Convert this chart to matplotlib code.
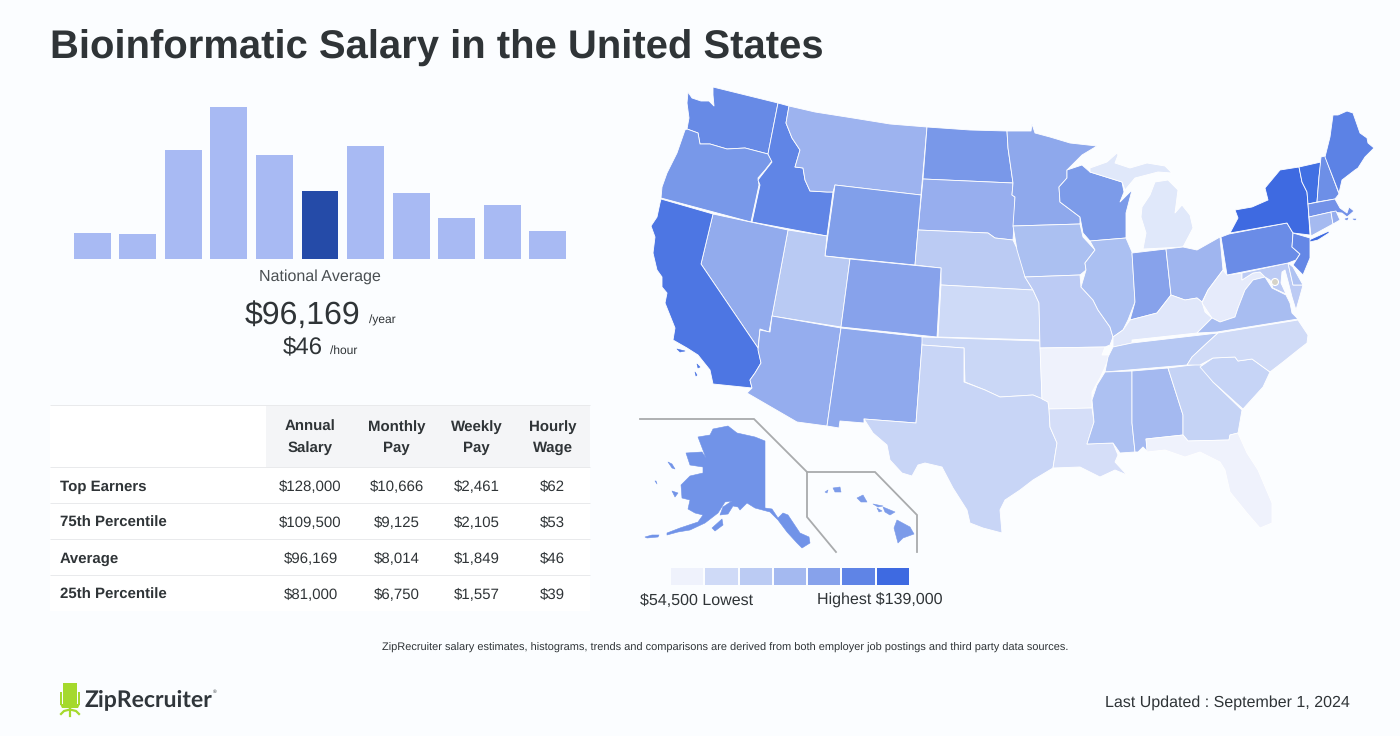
import matplotlib
matplotlib.use("Agg")
import matplotlib.pyplot as plt
from matplotlib.patches import Circle, Polygon, Rectangle

W, H = 1400, 736
BG = "#fbfdff"
DARK = "#2f3437"

plt.rcParams["font.family"] = ["Liberation Sans", "DejaVu Sans"]
plt.rcParams["text.hinting"] = "no_hinting"
plt.rcParams["text.hinting_factor"] = 1

# histogram, bar heights only, the picture has no axis
hist_heights = [26, 25, 109, 152, 104, 68, 113, 66, 41, 54, 28]
hist_highlight = 5

table_cols = ["Annual\nSalary", "Monthly\nPay", "Weekly\nPay", "Hourly\nWage"]
table_rows = ["Top Earners", "75th Percentile", "Average", "25th Percentile"]
annual = ["$128,000", "$109,500", "$96,169", "$81,000"]
monthly = ["$10,666", "$9,125", "$8,014", "$6,750"]
weekly = ["$2,461", "$2,105", "$1,849", "$1,557"]
hourly = ["$62", "$53", "$46", "$39"]

legend_colors = ["#eff2fc", "#cfdaf7", "#bbcbf3", "#a4b9f0", "#87a2eb", "#5f84e6", "#3e6ae1"]

state_colors = {
    "WA": "#678ae6", "OR": "#7898e9", "CA": "#4d76e3", "ID": "#6085e6", "MT": "#9db3ef",
    "ND": "#7998e9", "SD": "#97aeee", "WY": "#819fea", "NE": "#bbcbf3", "UT": "#b9caf3",
    "CO": "#87a2eb", "NV": "#92abed", "AZ": "#95adee", "NM": "#8fa9ed", "OK": "#cad7f6",
    "KS": "#cedaf7", "TX": "#c8d5f6", "MN": "#8ea8ec", "IA": "#abc0f1", "MO": "#bccbf4",
    "AR": "#eff2fc", "LA": "#d5def8", "WI": "#7c9be9", "IL": "#abc0f2", "IN": "#87a2eb",
    "MI": "#e0e8fa", "MI2": "#e0e8fa", "OH": "#9fb5ef", "KY": "#e0e7fa", "TN": "#b6c8f3",
    "MS": "#adc1f2", "AL": "#a4b9f0", "GA": "#c5d3f5", "FL": "#eff2fc", "SC": "#c6d4f6",
    "NC": "#d0dbf7", "VA": "#a8bdf1", "WV": "#e6ebfb", "PA": "#6a8ce7", "NY": "#3e6ae1",
    "LI": "#3e6ae1", "VT": "#4170e3", "NH": "#6d8fe7", "ME": "#5c82e5", "MA": "#7392e8",
    "CT": "#a5baf0", "RI": "#96aeee", "NJ": "#6487e6", "DE": "#b0c3f2", "MD": "#bccbf4",
    "AK": "#7193e8", "HI": "#7c9be9",
}

# state outlines, in figure pixels
state_shapes = {
    "WA": [(688,92),(692,98),(701,101),(709,101),(714,106),(713,95),(713,87),(778,103),(768,154),(745,148),(727,149),(710,144),(700,144),(698,133),(687,129),(689,118),(687,103)],
    "OR": [(687,129),(698,133),(700,144),(710,144),(727,149),(745,148),(768,154),(772,161),(765,170),(758,178),(759,185),(751,222),(661,198),(662,187),(667,173),(677,153),(685,130)],
    "ID": [(778,103),(789,106),(786,123),(792,138),(800,150),(795,167),(803,168),(805,180),(810,191),(827,192),(833,192),(827,236),(752,222),(760,185),(758,180),(772,162),(768,154)],
    "MT": [(789,106),(815,112),(853,118),(890,124),(927,127),(921,195),(835,185),(833,192),(827,192),(810,191),(805,180),(803,168),(795,167),(800,150),(792,138),(786,123)],
    "ND": [(927,127),(970,130),(1007,131),(1008,148),(1013,183),(923,179)],
    "SD": [(923,179),(1013,183),(1012,195),(1015,197),(1014,225),(1013,240),(995,238),(988,233),(918,230)],
    "WY": [(835,185),(921,195),(915,265),(825,256)],
    "NE": [(918,230),(988,233),(995,238),(1013,240),(1020,255),(1025,277),(1033,290),(941,285),(941,268),(915,265)],
    "UT": [(788,230),(827,236),(825,256),(850,259),(841,327),(772,316)],
    "CO": [(850,259),(941,268),(937,337),(841,327)],
    "NV": [(713,214),(788,230),(772,316),(769,332),(760,329),(758,348),(701,264)],
    "CA": [(661,199),(713,214),(701,264),(758,348),(761,363),(755,373),(750,380),(752,388),(713,384),(710,370),(698,355),(687,348),(673,340),(675,328),(665,303),(667,293),(662,287),(662,277),(657,270),(653,253),(655,237),(651,226),(657,217),(660,203)],
    "AZ": [(758,350),(760,330),(770,332),(772,316),(841,328),(827,426),(797,422),(747,393),(752,388),(750,380),(755,373),(761,363)],
    "NM": [(841,328),(923,337),(922,345),(916,423),(864,419),(864,423),(840,421),(839,428),(827,426)],
    "OK": [(922,337),(1040,341),(1042,399),(1033,395),(1017,396),(1000,397),(985,390),(965,382),(964,348),(922,345)],
    "KS": [(941,285),(1033,290),(1039,303),(1040,340),(938,337)],
    "TX": [(922,345),(964,348),(964,382),(985,390),(1000,397),(1017,396),(1033,395),(1043,399),(1048,402),(1049,409),(1050,427),(1057,443),(1053,468),(1033,480),(1020,490),(1005,500),(1000,510),(1002,533),(983,528),(970,523),(967,510),(953,488),(942,467),(925,463),(918,465),(912,476),(902,473),(890,460),(887,445),(873,433),(864,419),(916,423)],
    "MN": [(1007,131),(1031,131),(1032,124),(1035,133),(1050,137),(1070,143),(1097,146),(1082,155),(1067,170),(1067,178),(1059,187),(1060,202),(1080,217),(1080,224),(1013,226),(1015,197),(1012,195),(1013,183),(1008,148)],
    "IA": [(1013,226),(1080,224),(1083,237),(1095,250),(1085,263),(1086,270),(1080,275),(1025,277),(1017,250)],
    "MO": [(1025,277),(1080,275),(1081,287),(1093,300),(1098,310),(1110,327),(1113,337),(1110,345),(1105,347),(1040,348),(1039,303),(1033,290)],
    "AR": [(1040,348),(1105,347),(1102,355),(1110,355),(1105,367),(1100,378),(1092,392),(1092,408),(1049,409),(1048,402),(1042,399)],
    "LA": [(1049,409),(1092,408),(1094,422),(1087,444),(1113,443),(1118,455),(1115,462),(1127,475),(1115,470),(1100,477),(1080,467),(1053,468),(1057,443),(1050,427)],
    "WI": [(1067,170),(1082,165),(1090,172),(1122,182),(1124,192),(1120,202),(1132,190),(1126,213),(1126,238),(1090,241),(1083,233),(1080,217),(1060,202),(1059,187),(1067,178)],
    "IL": [(1090,241),(1126,238),(1132,252),(1135,302),(1128,320),(1123,330),(1113,337),(1110,327),(1098,310),(1093,300),(1081,287),(1086,270),(1085,263),(1095,250)],
    "IN": [(1132,253),(1166,249),(1171,295),(1157,313),(1130,320),(1135,302)],
    "MI": [(1143,249),(1183,247),(1193,228),(1190,215),(1182,205),(1175,213),(1178,190),(1168,180),(1155,182),(1150,195),(1142,207),(1141,217),(1146,233)],
    "MI2": [(1090,168),(1107,162),(1117,153),(1118,155),(1115,163),(1130,168),(1147,163),(1165,166),(1172,173),(1158,172),(1135,178),(1125,190),(1122,182),(1090,172)],
    "OH": [(1166,249),(1183,247),(1197,250),(1220,237),(1223,270),(1208,290),(1202,302),(1197,298),(1185,300),(1171,295)],
    "KY": [(1130,320),(1157,313),(1171,295),(1185,300),(1197,298),(1202,302),(1205,312),(1212,318),(1197,333),(1132,340),(1132,343),(1113,347),(1113,337),(1123,330)],
    "WV": [(1223,270),(1227,275),(1242,273),(1242,280),(1253,273),(1260,272),(1265,277),(1253,280),(1245,290),(1238,308),(1235,317),(1220,322),(1212,318),(1202,303),(1208,290)],
    "VA": [(1197,333),(1212,318),(1220,322),(1235,317),(1238,308),(1245,290),(1253,280),(1265,277),(1272,288),(1286,295),(1290,303),(1292,313),(1298,319),(1217,332)],
    "MD": [(1242,273),(1288,263),(1293,285),(1303,285),(1300,296),(1296,310),(1292,297),(1289,285),(1285,270),(1282,272),(1281,283),(1286,294),(1273,288),(1270,280),(1265,277),(1260,272),(1253,273),(1242,280)],
    "DE": [(1288,263),(1293,267),(1303,285),(1293,285)],
    "PA": [(1221,237),(1229,234),(1287,223),(1293,233),(1292,247),(1300,254),(1296,260),(1288,263),(1227,275)],
    "NY": [(1230,233),(1238,218),(1235,210),(1252,207),(1268,200),(1265,188),(1280,170),(1299,167),(1302,182),(1307,192),(1308,204),(1310,235),(1293,233),(1287,223)],
    "LI": [(1309,240),(1329,231),(1329,233),(1318,240),(1310,242)],
    "NJ": [(1293,233),(1310,238),(1310,258),(1303,275),(1293,265),(1300,254),(1292,247)],
    "VT": [(1299,167),(1321,162),(1319,177),(1317,202),(1308,204),(1307,192),(1302,182)],
    "NH": [(1321,157),(1325,156),(1339,194),(1335,199),(1317,202),(1319,177)],
    "ME": [(1325,157),(1330,137),(1333,115),(1338,115),(1347,111),(1353,113),(1360,133),(1367,138),(1368,143),(1374,148),(1365,157),(1358,168),(1355,170),(1342,180),(1339,193)],
    "MA": [(1308,204),(1335,199),(1340,208),(1347,213),(1349,207),(1354,211),(1347,217),(1342,213),(1331,212),(1309,217)],
    "CT": [(1309,217),(1331,212),(1333,224),(1311,236)],
    "RI": [(1331,212),(1336,211),(1340,220),(1333,224)],
    "TN": [(1113,347),(1132,343),(1218,333),(1207,343),(1192,357),(1187,365),(1105,372),(1108,357)],
    "MS": [(1105,372),(1132,371),(1132,423),(1135,452),(1120,453),(1113,443),(1087,444),(1094,422),(1092,400),(1097,385)],
    "AL": [(1132,371),(1168,368),(1183,415),(1183,435),(1146,439),(1148,452),(1143,447),(1138,452),(1135,452),(1132,423)],
    "GA": [(1168,368),(1200,364),(1213,382),(1242,410),(1238,433),(1230,435),(1229,440),(1188,441),(1183,435),(1183,415)],
    "FL": [(1146,439),(1183,435),(1188,441),(1229,440),(1230,435),(1238,433),(1247,453),(1258,470),(1272,503),(1272,523),(1260,528),(1247,513),(1230,492),(1225,470),(1220,462),(1200,452),(1185,457),(1165,450),(1147,452)],
    "SC": [(1200,367),(1213,358),(1235,357),(1238,361),(1252,359),(1270,372),(1263,387),(1243,409),(1213,382)],
    "NC": [(1218,333),(1298,320),(1308,335),(1307,343),(1298,350),(1283,362),(1270,372),(1252,359),(1238,361),(1235,357),(1213,358),(1200,365),(1187,365),(1192,357),(1207,343)],
}
island_shapes = {
    "CA": [[(677,349),(685,351),(680,352)], [(697,364),(700,367),(698,368)], [(695,372),(697,375),(696,376)]],
    "AK": [
        [(698,437),(710,435),(713,429),(728,426),(737,433),(755,437),(765,441),(765,508),(772,509),(778,518),(783,513),(788,515),(800,533),(809,537),(810,543),(802,548),(797,543),(787,532),(778,520),(770,512),(755,508),(747,503),(740,510),(738,507),(733,506),(728,514),(720,515),(723,507),(732,501),(725,502),(718,513),(705,523),(690,530),(678,532),(667,535),(667,533),(680,528),(698,522),(703,515),(695,513),(688,509),(690,500),(682,498),(681,485),(690,476),(703,473),(703,467),(690,465),(686,453),(702,452),(706,458)],
        [(668,462),(672,464),(675,469),(672,468)],
        [(672,491),(678,493),(675,497)],
        [(712,528),(722,519),(723,525),(715,531)],
        [(645,537),(652,535),(659,535),(658,537),(647,538)],
        [(655,481),(656,481),(657,484)],
    ],
    "HI": [
        [(897,520),(910,527),(914,534),(903,538),(898,543),(894,528)],
        [(883,507),(895,512),(890,515),(885,512)],
        [(873,504),(883,506),(878,507)],
        [(877,508),(882,511),(879,512)],
        [(857,498),(863,495),(867,502),(861,502)],
        [(833,488),(840,487),(841,492),(835,492)],
        [(825,492),(828,490),(827,493)],
    ],
    "MA": [[(1345,219),(1348,218),(1347,220)], [(1353,219),(1356,219),(1355,220)]],
}

alaska_frame = [(640,419),(754,419),(807,472),(807,517),(836,552)]
hawaii_frame = [(807,472),(875,472),(917,515),(917,552)]

fig = plt.figure(figsize=(W / 100, H / 100), dpi=100, facecolor=BG)
ax = fig.add_axes([0, 0, 1, 1])
ax.set_xlim(0, W)
ax.set_ylim(H, 0)
ax.axis("off")


def put(x, y, s, size, color=DARK, ha="center", weight="normal", **kw):
    # y is the text baseline
    ax.text(x, y, s, fontsize=size, color=color, ha=ha, va="baseline", fontweight=weight, **kw)


put(50, 59, "Bioinformatic Salary in the United States", 28.8, ha="left", weight="bold")

# histogram gets its own axes so the bars go through a real scale
hx0, hx1, hy0, hy1 = 69, 571, 100, 259
hax = fig.add_axes([hx0 / W, 1 - hy1 / H, (hx1 - hx0) / W, (hy1 - hy0) / H])
hax.set_xlim(-0.516, 10.516)
hax.set_ylim(0, hy1 - hy0)
hax.axis("off")
bar_colors = ["#254ba8" if i == hist_highlight else "#a8baf3" for i in range(len(hist_heights))]
hax.bar(range(len(hist_heights)), hist_heights, width=0.813, color=bar_colors)

put(320, 281, "National Average", 11.5, color="#4a4f52")
put(302, 324, "$96,169", 23.1)
put(369, 324, "/year", 8.6, ha="left")
put(303, 354, "$46", 17.3)
put(330, 354, "/hour", 8.6, ha="left")

# table
ax.add_patch(Rectangle((50, 405), 540, 206, fc="white", ec="none"))
ax.add_patch(Rectangle((266, 405), 324, 62, fc="#f4f5f7", ec="none"))
for y in [405, 467, 503, 539, 575]:
    ax.plot([50, 590], [y, y], color="#e9eaec", lw=0.72, solid_capstyle="butt")
col_x = [310.5, 396.5, 476.5, 552.5]
for x, label in zip(col_x, table_cols):
    top, bottom = label.split("\n")
    put(x, 431, top, 11, weight="bold")
    put(x, 452, bottom, 11, weight="bold")
row_y = [491, 527, 563, 599]
for i, y in enumerate(row_y):
    put(60, y, table_rows[i], 11, ha="left", weight="bold")
    for x, col in zip(col_x, [annual, monthly, weekly, hourly]):
        put(x, y, col[i], 11.05)

# map
for name, pts in state_shapes.items():
    ax.add_patch(Polygon(pts, closed=True, fc=state_colors[name], ec="white", lw=0.6, joinstyle="round"))
for name, parts in island_shapes.items():
    for pts in parts:
        ax.add_patch(Polygon(pts, closed=True, fc=state_colors[name], ec=state_colors[name], lw=0.4, joinstyle="round"))
ax.add_patch(Circle((1275, 282), 3.5, fc="#d6d3c8", ec="white", lw=0.8))

for frame in [alaska_frame, hawaii_frame]:
    ax.plot(*zip(*frame), color="#a9abad", lw=1.3, solid_joinstyle="miter")

# map legend
swatch_x = [671, 705, 740, 774, 808, 842, 877]
swatch_w = [32, 33, 32, 32, 32, 33, 32]
for x, w, c in zip(swatch_x, swatch_w, legend_colors):
    ax.add_patch(Rectangle((x, 568), w, 17, fc=c, ec="none"))
put(640, 604.6, "$54,500 Lowest", 11.6, ha="left")
put(943, 605, "Highest $139,000", 11.6, ha="right")

put(725, 651, "ZipRecruiter salary estimates, histograms, trends and comparisons are derived from both employer job postings and third party data sources.", 8)
put(1350, 707, "Last Updated : September 1, 2024", 11.6, ha="right")

# logo
GREEN = "#a5d92d"
ax.add_patch(Rectangle((63, 683), 14, 21, fc=GREEN, ec="none"))
ax.add_patch(Rectangle((60, 692), 2, 13, fc=GREEN, ec="none"))
ax.add_patch(Rectangle((78, 692), 2, 13, fc=GREEN, ec="none"))
ax.add_patch(Polygon([(60, 704), (80, 704), (78, 708), (62, 708)], closed=True, fc=GREEN, ec="none"))
ax.plot([70, 70], [708, 716], color=GREEN, lw=1.6)
ax.plot([61, 64, 70, 76, 79], [714, 711, 709.5, 711, 714], color=GREEN, lw=1.6)
ax.text(85, 699.5, "ZipRecruiter", fontsize=16.6, color="#30363b", ha="left", va="center", family="Lato", fontweight="bold")
ax.text(212.5, 692, "®", fontsize=3.5, color="#30363b", ha="left", va="center")

fig.savefig("out.png", dpi=100, facecolor=BG)
